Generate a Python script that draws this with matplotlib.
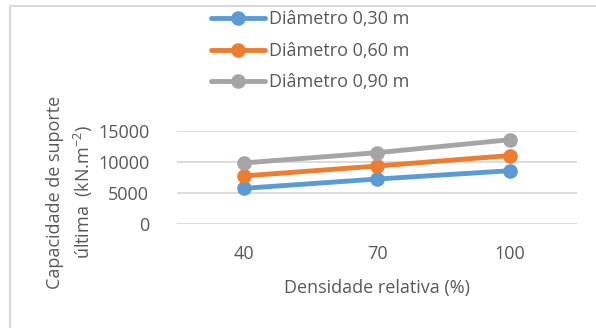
import matplotlib
matplotlib.use("Agg")
import matplotlib.pyplot as plt
from matplotlib.lines import Line2D

plt.rcParams['font.family'] = ['Open Sans', 'DejaVu Sans']
plt.rcParams['mathtext.fontset'] = 'custom'
plt.rcParams['mathtext.rm'] = 'Open Sans'
plt.rcParams['mathtext.it'] = 'Open Sans'

# Data
densidade = ['40', '70', '100']
series_labels = ['Diâmetro 0,30 m', 'Diâmetro 0,60 m', 'Diâmetro 0,90 m']
d030 = [5700, 7200, 8550]
d060 = [7700, 9300, 11000]
d090 = [9800, 11450, 13550]
series_values = [d030, d060, d090]
colors = ['#5B9BD5', '#ED7D31', '#A5A5A5']
y_ticks = [0, 5000, 10000, 15000]

text_color = '#595959'
grid_color = '#D9D9D9'
fs = 13

fig = plt.figure(figsize=(5.96, 3.28), dpi=100)
ax = fig.add_axes([0.297, 0.318, 0.671, 0.2835])

x = list(range(len(densidade)))
handles = []
for vals, lab, c in zip(series_values, series_labels, colors):
    h, = ax.plot(x, vals, color=c, lw=3.5, marker='o', ms=9.5,
                 solid_capstyle='round', label=lab, zorder=3)
    handles.append(h)

ax.set_xlim(-0.5, 2.5)
ax.set_ylim(0, 15000)
ax.set_yticks(y_ticks)
ax.set_yticklabels([str(v) for v in y_ticks])
ax.set_xticks(x)
ax.set_xticklabels(densidade)
ax.yaxis.grid(True, color=grid_color, lw=1.3)
ax.set_axisbelow(True)
for s in ax.spines.values():
    s.set_visible(False)
ax.tick_params(length=0, labelsize=fs, colors=text_color)
ax.tick_params(axis='y', pad=20)
ax.tick_params(axis='x', pad=15)

ax.set_xlabel('Densidade relativa (%)', fontsize=fs, color=text_color, labelpad=12)
fig.text(0.118, 0.415, 'Capacidade de suporte\núltima  (kN.m$^{-2}$)', fontsize=fs,
         color=text_color, rotation=90, ha='center', va='center',
         multialignment='center', linespacing=1.45)

leg = fig.legend(handles=handles, loc='upper left', bbox_to_anchor=(0.354, 0.968),
                 frameon=False, fontsize=fs, labelcolor=text_color,
                 borderaxespad=0, borderpad=0,
                 handlelength=3.0, handletextpad=0.2, labelspacing=0.74)

# chart frame
fig.add_artist(Line2D([0.016, 1.0], [0.983, 0.983], color=grid_color, lw=1.5,
                      transform=fig.transFigure))
fig.add_artist(Line2D([0.016, 0.016], [0.0, 0.983], color=grid_color, lw=1.5,
                      transform=fig.transFigure))

fig.savefig('out.png', dpi=100)
